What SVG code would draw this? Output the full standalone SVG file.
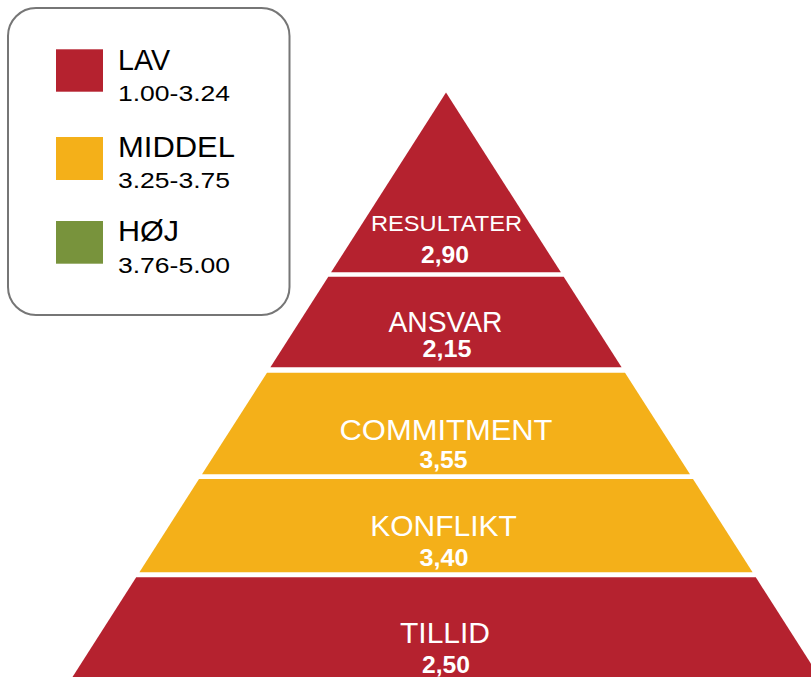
<svg xmlns="http://www.w3.org/2000/svg" width="811" height="677" viewBox="0 0 811 677">
<style>
.red{fill:#B5222F}
.yel{fill:#F4B019}
.grn{fill:#78933C}
.lt{font-family:"Liberation Sans",Arial,sans-serif;fill:#000}
.big{font-size:29px}
.sm{font-size:22.5px}
.wt{font-family:"Liberation Sans",Arial,sans-serif;fill:#fff;text-anchor:middle}
.lbl{font-size:30px}
.num{font-size:24px;font-weight:bold}
</style>
<rect width="811" height="677" fill="#fff"/>
<g id="legend">
<rect x="8" y="8" width="281.5" height="307" rx="28" ry="28" fill="#fff" stroke="#767676" stroke-width="2"/>
<rect class="red" x="56" y="49.3" width="47" height="42.4"/>
<rect class="yel" x="56" y="137" width="47" height="43"/>
<rect class="grn" x="56" y="221" width="47" height="42.7"/>
<text class="lt big" x="118" y="70" textLength="52" lengthAdjust="spacingAndGlyphs">LAV</text>
<text class="lt sm" x="118" y="101" textLength="112" lengthAdjust="spacingAndGlyphs">1.00-3.24</text>
<text class="lt big" x="118" y="157.3" textLength="117" lengthAdjust="spacingAndGlyphs">MIDDEL</text>
<text class="lt sm" x="118" y="188.3" textLength="112" lengthAdjust="spacingAndGlyphs">3.25-3.75</text>
<text class="lt big" x="118" y="241" textLength="61" lengthAdjust="spacingAndGlyphs">HØJ</text>
<text class="lt sm" x="118" y="272.7" textLength="112" lengthAdjust="spacingAndGlyphs">3.76-5.00</text>
</g>
<g id="resultater">
<polygon class="red" points="446,92.5 560.9,272.3 331.1,272.3"/>
<text class="wt" x="446.5" y="230.7" font-size="22.5" textLength="151" lengthAdjust="spacingAndGlyphs">RESULTATER</text>
<text class="wt num" x="445" y="262.7" textLength="48" lengthAdjust="spacingAndGlyphs">2,90</text>
</g>
<g id="ansvar">
<polygon class="red" points="328.3,276.7 563.7,276.7 621.6,367.3 270.4,367.3"/>
<text class="wt" x="445.5" y="331.7" font-size="29" textLength="114" lengthAdjust="spacingAndGlyphs">ANSVAR</text>
<text class="wt num" x="447" y="356.7" textLength="49" lengthAdjust="spacingAndGlyphs">2,15</text>
</g>
<g id="commitment">
<polygon class="yel" points="267,372.7 625,372.7 690,474.3 202,474.3"/>
<text class="wt lbl" x="446" y="439.7" textLength="213" lengthAdjust="spacingAndGlyphs">COMMITMENT</text>
<text class="wt num" x="443.5" y="467.7" textLength="48" lengthAdjust="spacingAndGlyphs">3,55</text>
</g>
<g id="konflikt">
<polygon class="yel" points="199,479 693,479 752.6,572.3 139.4,572.3"/>
<text class="wt lbl" x="443.5" y="535.7">KONFLIKT</text>
<text class="wt num" x="444" y="566" textLength="49" lengthAdjust="spacingAndGlyphs">3,40</text>
</g>
<g id="tillid">
<polygon class="red" points="136.2,577.3 755.8,577.3 819.5,677 72.5,677"/>
<text class="wt lbl" x="445" y="642.7">TILLID</text>
<text class="wt num" x="446" y="672.7" textLength="48" lengthAdjust="spacingAndGlyphs">2,50</text>
</g>
<g id="connectors"/>
</svg>
